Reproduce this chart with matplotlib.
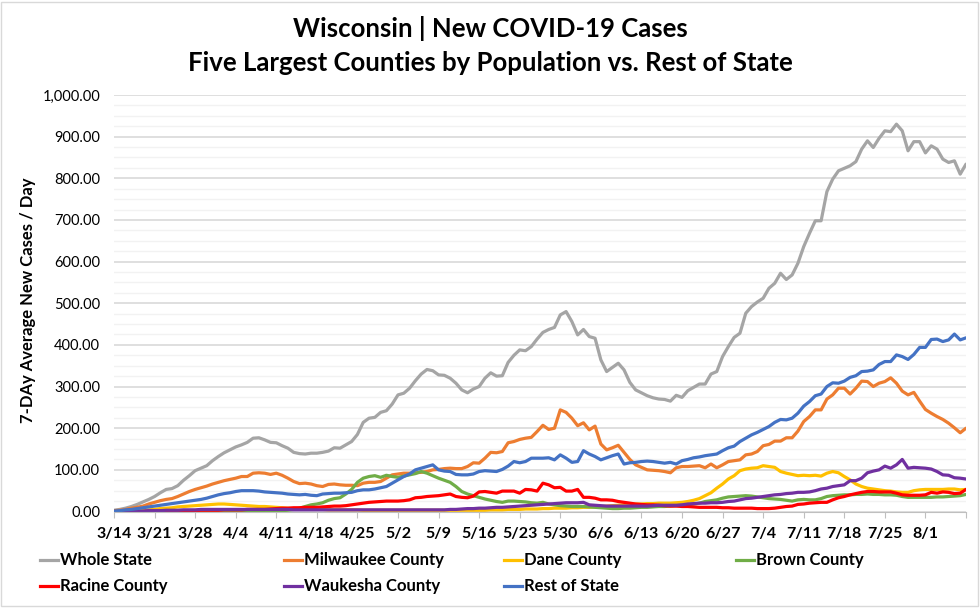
import matplotlib.pyplot as plt
import pandas as pd
from matplotlib.lines import Line2D
from matplotlib.patches import Rectangle

plt.rcParams['font.family'] = ['Lato', 'DejaVu Sans']

# 7-day average new cases per day, 3/14 .. 8/8 (one value per day)
whole_state = [
    3, 5, 8, 12, 17, 23, 29, 36, 45, 53,
    55, 62, 75, 86, 98, 104, 110, 122, 132, 141,
    148, 155, 160, 166, 176, 177, 172, 166, 165, 158,
    152, 142, 139, 138, 140, 140, 142, 145, 153, 152,
    160, 168, 185, 214, 224, 226, 238, 242, 258, 280,
    284, 296, 314, 330, 341, 338, 328, 327, 320, 308,
    292, 285, 294, 300, 320, 333, 325, 326, 358, 375,
    388, 386, 396, 414, 430, 437, 442, 472, 480, 456,
    424, 437, 420, 416, 364, 336, 346, 356, 340, 310,
    292, 285, 278, 273, 270, 269, 265, 279, 274, 290,
    298, 306, 306, 330, 336, 372, 396, 418, 428, 476,
    492, 503, 512, 536, 548, 572, 557, 568, 596, 636,
    668, 698, 698, 768, 798, 818, 824, 830, 840, 870,
    890, 874, 896, 914, 912, 930, 914, 866, 888, 888,
    861, 878, 870, 846, 838, 842, 810, 834]

milwaukee = [
    2, 3, 5, 8, 10, 13, 18, 22, 26, 29,
    31, 36, 42, 48, 53, 57, 61, 66, 70, 74,
    77, 80, 84, 84, 92, 93, 92, 89, 92, 87,
    80, 72, 67, 68, 66, 62, 60, 65, 66, 64,
    63, 63, 62, 68, 70, 70, 72, 80, 88, 90,
    92, 92, 93, 94, 96, 100, 101, 103, 104, 103,
    103, 108, 117, 116, 128, 142, 141, 144, 165, 168,
    173, 176, 178, 192, 207, 197, 200, 244, 238, 224,
    206, 213, 196, 205, 162, 148, 153, 159, 142, 125,
    112, 106, 100, 99, 98, 96, 93, 105, 108, 108,
    109, 110, 105, 114, 105, 112, 120, 122, 124, 136,
    138, 144, 158, 161, 169, 169, 177, 177, 193, 216,
    228, 244, 244, 270, 280, 296, 296, 282, 296, 313,
    312, 300, 308, 312, 321, 308, 289, 280, 286, 265,
    245, 236, 228, 221, 212, 201, 189, 200]

dane = [
    0, 0, 1, 1, 2, 3, 4, 5, 7, 8,
    9, 11, 12, 13, 14, 15, 16, 17, 18, 18,
    17, 16, 15, 14, 13, 12, 12, 11, 10, 9,
    8, 7, 6, 6, 5, 5, 5, 4, 4, 4,
    4, 4, 4, 3, 3, 3, 3, 3, 3, 3,
    3, 3, 3, 3, 3, 3, 3, 3, 3, 3,
    3, 3, 3, 3, 3, 4, 4, 4, 5, 5,
    5, 6, 6, 6, 7, 7, 8, 8, 8, 9,
    9, 10, 10, 11, 12, 13, 14, 15, 16, 17,
    18, 18, 19, 19, 20, 20, 20, 21, 22, 24,
    27, 31, 38, 45, 56, 66, 78, 86, 98, 102,
    104, 105, 110, 108, 106, 96, 92, 89, 86, 87,
    86, 87, 85, 92, 96, 93, 84, 76, 66, 60,
    56, 54, 52, 50, 49, 47, 46, 46, 50, 52,
    53, 53, 53, 53, 54, 54, 52, 53]

brown = [
    0, 0, 0, 0, 0, 0, 0, 1, 1, 1,
    1, 1, 1, 1, 1, 1, 1, 1, 1, 1,
    1, 1, 1, 1, 1, 1, 1, 1, 1, 2,
    3, 5, 8, 12, 16, 18, 21, 27, 31, 33,
    42, 53, 70, 80, 84, 86, 82, 87, 84, 82,
    85, 88, 91, 96, 92, 86, 80, 75, 70, 60,
    48, 42, 38, 34, 30, 27, 24, 22, 25, 25,
    24, 23, 21, 20, 22, 18, 16, 14, 13, 12,
    12, 12, 11, 10, 9, 8, 7, 7, 8, 8,
    9, 10, 10, 11, 12, 12, 13, 14, 15, 16,
    18, 20, 24, 26, 28, 32, 35, 36, 37, 38,
    37, 35, 33, 31, 30, 29, 27, 25, 28, 29,
    28, 28, 31, 36, 38, 39, 40, 40, 41, 41,
    42, 41, 41, 40, 40, 39, 36, 34, 34, 34,
    34, 34, 35, 35, 36, 37, 38, 41]

racine = [
    0, 0, 0, 0, 0, 0, 1, 1, 1, 1,
    1, 2, 2, 2, 2, 3, 3, 3, 3, 4,
    4, 4, 4, 5, 5, 5, 5, 6, 7, 8,
    8, 9, 9, 10, 10, 10, 11, 12, 13, 13,
    14, 16, 18, 20, 22, 23, 24, 25, 25, 25,
    26, 28, 33, 34, 36, 37, 38, 40, 42, 36,
    34, 33, 37, 47, 48, 46, 44, 49, 49, 49,
    44, 53, 52, 49, 68, 64, 57, 58, 49, 49,
    53, 34, 34, 32, 28, 28, 27, 24, 22, 20,
    18, 17, 16, 16, 15, 14, 13, 13, 12, 12,
    11, 10, 10, 10, 10, 9, 9, 8, 8, 8,
    8, 7, 7, 7, 8, 10, 12, 13, 17, 18,
    20, 21, 22, 22, 28, 33, 36, 40, 43, 46,
    48, 48, 47, 47, 47, 44, 40, 39, 39, 39,
    40, 46, 44, 47, 46, 43, 44, 53]

waukesha = [
    0, 0, 0, 1, 1, 1, 2, 2, 2, 3,
    3, 3, 4, 4, 4, 5, 5, 5, 5, 5,
    5, 5, 5, 5, 5, 5, 5, 5, 5, 5,
    5, 4, 4, 4, 4, 4, 4, 4, 4, 4,
    4, 4, 4, 4, 4, 4, 4, 4, 4, 4,
    4, 4, 4, 4, 4, 4, 4, 4, 5, 5,
    6, 7, 7, 8, 8, 9, 10, 10, 11, 12,
    13, 14, 15, 16, 17, 18, 19, 20, 21, 21,
    21, 22, 16, 15, 14, 13, 13, 13, 13, 13,
    13, 13, 13, 14, 15, 15, 15, 15, 16, 18,
    19, 20, 20, 21, 21, 22, 24, 25, 28, 31,
    32, 34, 36, 38, 40, 41, 43, 44, 46, 46,
    47, 50, 54, 56, 60, 62, 64, 74, 74, 80,
    93, 97, 100, 109, 104, 112, 125, 104, 106, 105,
    104, 102, 96, 88, 87, 81, 80, 78]

rest_of_state = [
    1, 2, 4, 5, 7, 9, 11, 13, 15, 17,
    19, 21, 23, 25, 27, 29, 32, 36, 40, 43,
    45, 48, 50, 50, 50, 49, 47, 46, 45, 44,
    42, 41, 40, 41, 39, 38, 42, 43, 44, 44,
    45, 46, 50, 52, 52, 54, 57, 60, 68, 76,
    84, 90, 100, 104, 108, 112, 100, 97, 96, 89,
    88, 88, 90, 96, 98, 97, 96, 101, 109, 120,
    117, 120, 128, 128, 128, 129, 124, 136, 128, 118,
    120, 146, 138, 132, 124, 129, 134, 138, 114, 117,
    118, 120, 121, 120, 118, 116, 118, 114, 122, 125,
    129, 131, 134, 136, 138, 146, 153, 157, 168, 176,
    184, 190, 197, 204, 214, 221, 220, 224, 236, 253,
    264, 278, 282, 300, 309, 308, 313, 322, 326, 336,
    337, 340, 353, 360, 360, 376, 372, 365, 377, 394,
    394, 413, 414, 408, 412, 426, 412, 417]

series_names = ['Whole State', 'Milwaukee County', 'Dane County', 'Brown County',
                'Racine County', 'Waukesha County', 'Rest of State']
series_colors = ['#A5A5A5', '#ED7D31', '#FFC000', '#70AD47',
                 '#FF0000', '#7030A0', '#4472C4']
all_series = [whole_state, milwaukee, dane, brown, racine, waukesha, rest_of_state]

dates = pd.date_range('2020-03-14', periods=len(whole_state), freq='D')
tick_dates = pd.date_range('2020-03-14', '2020-08-08', freq='7D')
tick_labels = [f'{d.month}/{d.day}' for d in tick_dates[:-1]] + ['']

fig = plt.figure(figsize=(9.8, 6.08), dpi=100)
ax = fig.add_axes([114 / 980, 1 - 511.5 / 608, 852 / 980, 416.5 / 608])

for vals, name, col in zip(all_series, series_names, series_colors):
    ax.plot(dates, vals, color=col, lw=2.3, label=name, solid_capstyle='round')

ax.set_ylim(0, 1000)
ax.set_xlim(dates[0], pd.Timestamp('2020-08-08'))
ax.set_yticks(range(0, 1001, 100))
ax.set_yticks(range(0, 1001, 25), minor=True)
ax.set_yticklabels([f'{v:,.2f}' for v in range(0, 1001, 100)], fontsize=10.5)
ax.grid(True, axis='y', which='major', color='#d9d9d9', lw=1.2)
ax.grid(True, axis='y', which='minor', color='#f2f2f2', lw=1.0)
ax.set_axisbelow(True)
ax.set_xticks(tick_dates)
ax.set_xticklabels(tick_labels, fontsize=11.5, fontweight='bold')
ax.tick_params(axis='y', which='both', length=0, pad=10)
ax.tick_params(axis='x', length=4, color='#bfbfbf', pad=7)

for s in ['top', 'right', 'left']:
    ax.spines[s].set_visible(False)
ax.spines['bottom'].set_color('#bfbfbf')

fig.text(28 / 980, 1 - 300 / 608, '7-DAy Average New Cases / Day', rotation=90,
         ha='center', va='center', fontsize=12, fontweight='bold')

fig.text(0.5, 1 - 37 / 608, 'Wisconsin | New COVID-19 Cases', ha='center', va='baseline',
         fontsize=18.5, fontweight='bold')
fig.text(0.5, 1 - 71 / 608, 'Five Largest Counties by Population vs. Rest of State',
         ha='center', va='baseline', fontsize=18.5, fontweight='bold')

# legend laid out like the Excel one (4 columns, row-major)
leg_x = [40, 284, 504, 736]
leg_y = [560, 586]
for i, (name, col) in enumerate(zip(series_names, series_colors)):
    x0 = leg_x[i % 4]
    y0 = leg_y[i // 4]
    fig.add_artist(Line2D([x0 / 980, (x0 + 18) / 980], [1 - y0 / 608, 1 - y0 / 608],
                          color=col, lw=2.3, transform=fig.transFigure))
    fig.text((x0 + 20) / 980, 1 - y0 / 608, name, ha='left', va='center',
             fontsize=12, fontweight='bold')

fig.add_artist(Rectangle((1 / 980, 2 / 608), 977 / 980, 604 / 608, transform=fig.transFigure,
                         fill=False, ec='#d9d9d9', lw=1))

fig.savefig('out.png', dpi=100)
